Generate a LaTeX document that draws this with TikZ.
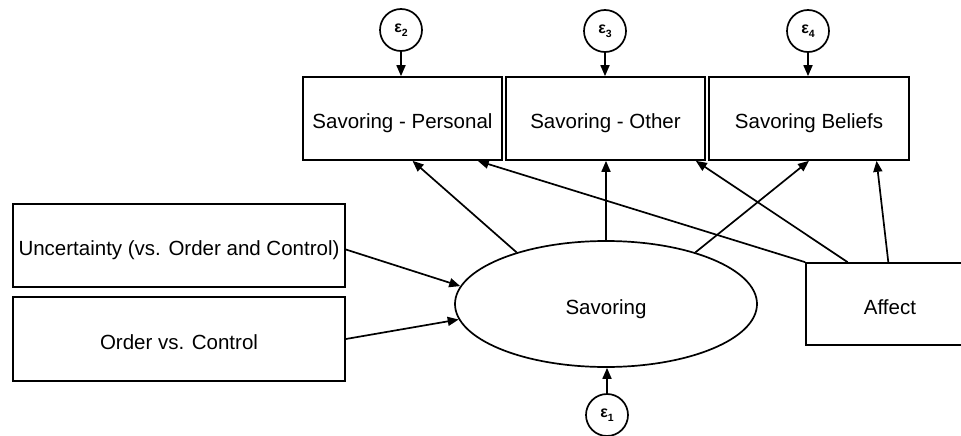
\documentclass[tikz,border=0pt]{standalone}
\usepackage{fontspec}
\setmainfont{Liberation Sans}
\usetikzlibrary{arrows.meta,shapes.geometric,calc}
\tikzset{
  lbl/.style={font=\fontsize{20.5}{24}\selectfont},
  obox/.style={draw, line width=1.7pt, rectangle, inner sep=0pt, lbl},
  err/.style={draw, line width=1.7pt, circle, minimum size=42pt, inner sep=0pt},
  arr/.style={line width=1.7pt, -{Triangle[length=11pt,width=9pt]}},
}
\newcommand{\eps}[1]{{\bfseries\fontsize{16}{16}\selectfont ε\raisebox{-4pt}{\fontsize{10.5}{10.5}\selectfont #1}}}
\newcommand{\lb}[1]{\raisebox{-4.5pt}[15pt][4pt]{#1}}
\begin{document}
\begin{tikzpicture}[x=1pt,y=-1pt]
\useasboundingbox (0,0) rectangle (961,436);
\clip (0,0) rectangle (961,436);
% observed boxes
\node[obox, minimum width=199pt, minimum height=83pt] (pers) at (402.5,118.5) {\lb{Savoring - Personal}};
\node[obox, minimum width=199pt, minimum height=83pt] (oth) at (605.5,118.5) {\lb{Savoring - Other}};
\node[obox, minimum width=200pt, minimum height=83pt] (bel) at (809,118.5) {\lb{Savoring Beliefs}};
\node[obox, minimum width=332pt, minimum height=83pt] (unc) at (179,245.5) {\lb{Uncertainty (vs. Order and Control)}};
\node[obox, minimum width=332pt, minimum height=84pt] (ord) at (179,339) {\lb{Order vs. Control}};
\node[obox, minimum width=168pt, minimum height=82pt] (aff) at (890,304) {\lb{Affect}};
% latent
\node[draw, line width=1.7pt, ellipse, minimum width=302pt, minimum height=126pt, inner sep=0pt, lbl] (sav) at (606,304) {\lb{Savoring}};
% errors
\node[err] (e2) at (401,30) {\eps{2}};
\node[err] (e3) at (605,31) {\eps{3}};
\node[err] (e4) at (808,31) {\eps{4}};
\node[err] (e1) at (607,415) {\eps{1}};
% error arrows
\draw[arr] (e2) -- (e2 |- pers.north);
\draw[arr] (e3) -- (e3 |- oth.north);
\draw[arr] (e4) -- (e4 |- bel.north);
\draw[arr] (e1) -- (e1 |- sav.south);
% predictors
\draw[arr] ($(unc.east)+(0,4)$) -- (sav.173);
\draw[arr] (ord.east) -- (sav.186);
% savoring to indicators
\draw[arr] (sav.150) -- ($(pers.south west)!0.55!(pers.south east)$);
\draw[arr] (sav.north) -- (sav.north |- oth.south);
\draw[arr] (sav.30) -- (bel.south);
% affect
\draw[arr] (aff.north west) -- ($(pers.south west)!0.875!(pers.south east)$);
\draw[arr] ($(aff.north west)!0.25!(aff.north east)$) -- ($(oth.south west)!0.95!(oth.south east)$);
\draw[arr] ($(aff.north west)!0.49!(aff.north east)$) -- ($(bel.south west)!0.835!(bel.south east)$);
\end{tikzpicture}
\end{document}
